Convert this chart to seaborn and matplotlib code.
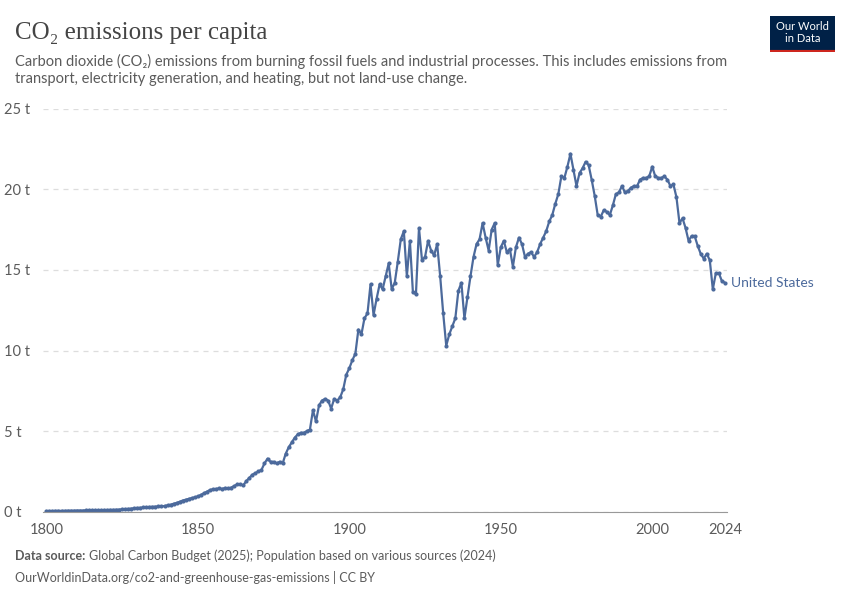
import numpy as np
import pandas as pd
import matplotlib
matplotlib.use("Agg")
import matplotlib.pyplot as plt
import seaborn as sns

years = list(range(1800, 2025))
values = [
0.05,0.05,0.05,0.06,0.06,0.06,0.06,0.07,0.07,0.07,
0.08,0.08,0.08,0.09,0.09,0.09,0.10,0.10,0.10,0.11,
0.11,0.12,0.12,0.13,0.14,0.15,0.17,0.18,0.20,0.22,
0.24,0.25,0.27,0.28,0.30,0.31,0.32,0.33,0.33,0.36,
0.40,0.44,0.50,0.55,0.62,0.70,0.75,0.80,0.85,0.90,
0.95,1.05,1.15,1.25,1.35,1.40,1.42,1.45,1.42,1.48,
1.45,1.50,1.60,1.70,1.70,1.65,1.90,2.10,2.30,2.40,
2.50,2.60,3.00,3.30,3.10,3.10,3.00,3.10,3.00,3.60,
4.00,4.30,4.60,4.80,4.90,4.90,5.00,5.10,6.30,5.60,
6.6,6.9,7.0,6.9,6.4,7.0,6.9,7.1,7.6,8.5,
8.9,9.4,9.8,11.3,11.0,12.0,12.3,14.1,12.2,13.2,
14.1,13.8,14.6,15.4,13.8,14.2,15.5,16.9,17.4,14.6,
16.8,13.6,13.5,17.6,15.6,15.8,16.8,16.2,15.9,16.6,
14.6,12.3,10.3,11.0,11.5,12.0,13.7,14.2,12.0,13.3,
14.6,15.8,16.6,16.9,17.9,17.0,16.2,17.5,17.9,15.3,
16.4,16.8,16.1,16.3,15.2,16.4,17.0,16.6,15.8,16.0,
16.1,15.8,16.1,16.6,17.0,17.4,18.0,18.4,19.1,19.7,
20.8,20.7,21.4,22.2,21.2,20.2,21.0,21.3,21.7,21.5,
20.6,19.6,18.4,18.3,18.7,18.6,18.4,19.0,19.7,19.8,
20.2,19.8,19.9,20.1,20.2,20.2,20.6,20.7,20.7,20.8,
21.4,20.8,20.7,20.7,20.8,20.6,20.2,20.3,19.5,17.9,
18.2,17.6,16.8,17.1,17.1,16.5,16.0,15.7,16.0,15.6,
13.8,14.8,14.8,14.3,14.2]
country = "United States"
xticks = [1800, 1850, 1900, 1950, 2000, 2024]
yticks = [0, 5, 10, 15, 20, 25]

df = pd.DataFrame({"year": years, "co2": values})
sns.set_style("white")
plt.rcParams['font.family'] = ['Lato', 'DejaVu Sans']
color = "#4C6A9C"

fig = plt.figure(figsize=(8.5, 6), dpi=100)
ax = fig.add_axes([0.051, 0.147, 0.804, 0.672])
sns.lineplot(data=df, x="year", y="co2", ax=ax, color=color, lw=1.6,
             marker="o", markersize=3, markeredgewidth=0)
ax.set_xlim(1799, 2024.6)
ax.set_ylim(0, 25)
ax.set_xticks(xticks)
ax.set_xticklabels([str(t) for t in xticks], color="#5b5b5b", fontsize=10.5)
ax.set_yticks(yticks)
ax.set_yticklabels([f"{t} t" for t in yticks], color="#5b5b5b", fontsize=10.5)
ax.set_xlabel(""); ax.set_ylabel("")
ax.yaxis.grid(True, ls=(0, (4, 4)), color="#dddddd", lw=0.9)
for s in ["top", "right", "left"]:
    ax.spines[s].set_visible(False)
ax.spines["bottom"].set_color("#999999")
ax.tick_params(axis="x", length=5, color="#999999", pad=3)
ax.tick_params(axis="y", length=0)
for lbl in ax.get_yticklabels():
    lbl.set_horizontalalignment("left")
ax.yaxis.set_tick_params(pad=28)
ax.text(years[-1] + 2, values[-1], country, color=color, fontsize=10, va="center")

fig.text(0.018, 0.945, "CO₂ emissions per capita", fontsize=18, family=["Liberation Serif", "DejaVu Serif"],
         color="#444444", va="center")
fig.text(0.018, 0.883, "Carbon dioxide (CO₂) emissions from burning fossil fuels and industrial processes. This includes emissions from\ntransport, electricity generation, and heating, but not land-use change.",
         fontsize=10.5, color="#5b5b5b", va="center", linespacing=1.3)
t1 = fig.text(0.018, 0.073, "Data source:", fontsize=9, color="#5b5b5b", va="center", fontweight="bold")
fig.canvas.draw()
bb = t1.get_window_extent()
fig.text((bb.x1 + 3) / fig.bbox.width, 0.073,
         "Global Carbon Budget (2025); Population based on various sources (2024)",
         fontsize=9, color="#5b5b5b", va="center")
fig.text(0.018, 0.038, "OurWorldinData.org/co2-and-greenhouse-gas-emissions | CC BY",
         fontsize=9, color="#5b5b5b", va="center")
logo = fig.add_axes([0.906, 0.913, 0.076, 0.06])
logo.set_facecolor("#002147")
logo.set_xticks([]); logo.set_yticks([])
for s in logo.spines.values(): s.set_visible(False)
logo.axhline(0, color="#ce261e", lw=3)
logo.text(0.5, 0.55, "Our World\nin Data", color="white", fontsize=8, ha="center", va="center",
          transform=logo.transAxes, linespacing=1.1)
fig.savefig("out.png", dpi=100)
